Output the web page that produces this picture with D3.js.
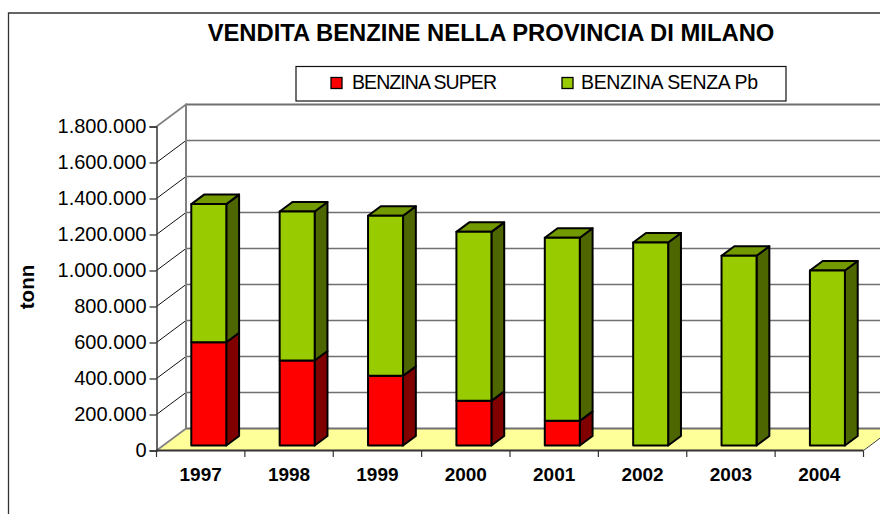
<!DOCTYPE html>
<html><head><meta charset="utf-8">
<style>html,body{margin:0;padding:0;background:#fff}svg{display:block}text{font-family:"Liberation Sans",Arial,sans-serif;fill:#000}</style>
<script src="https://cdnjs.cloudflare.com/ajax/libs/d3/7.8.5/d3.min.js"></script>
</head><body><svg id="c" width="880" height="514"></svg>
<script>
const title = "VENDITA BENZINE NELLA PROVINCIA DI MILANO";
const yAxisTitle = "tonn";
const categories = ["1997","1998","1999","2000","2001","2002","2003","2004"];
const seriesNames = ["BENZINA SUPER","BENZINA SENZA Pb"];
const benzinaSuper = [574000,472000,387000,248000,137000,0,0,0];
const benzinaSenzaPb = [767000,828000,889000,939000,1017000,1128000,1054000,972000];
const yTicks = [0,200000,400000,600000,800000,1000000,1200000,1400000,1600000,1800000];

const svg = d3.select("#c");
const fr = {l:156.5,r:863.5,b:450.5,t:126.5};
const wall = {dx:29.5,dy:-22};
const barDepth = {start:5/22, dx:12.8, dy:-9.5, w:35};
const faces = {
  s0:{front:"#ff0000",side:"#800000",top:"#800000"},
  s1:{front:"#99cc00",side:"#4d6600",top:"#739900"}
};
const y = d3.scaleLinear().domain([0,1800000]).range([fr.b,fr.t]);
const x = d3.scaleBand().domain(categories).range([fr.l,fr.r]);
const fmt = d => d3.format(",")(d).replace(/,/g,".");

// outer frame
svg.append("path").attr("d","M8.5,514V13H880").attr("fill","none").attr("stroke","#333").attr("stroke-width",1.3);

// floor
svg.append("path").attr("fill","#ffff99")
  .attr("d",`M${fr.l},${fr.b}L${fr.l+wall.dx},${fr.b+wall.dy}L${fr.r+wall.dx},${fr.b+wall.dy}L${fr.r},${fr.b}Z`);

// back wall gridlines and side wall diagonals
yTicks.forEach(t=>{
  svg.append("line").attr("x1",fr.l+wall.dx).attr("x2",880)
    .attr("y1",y(t)+wall.dy).attr("y2",y(t)+wall.dy)
    .attr("stroke","#707070").attr("stroke-width",t===0||t===1800000?2:1.6);
  svg.append("line").attr("x1",fr.l).attr("x2",fr.l+wall.dx)
    .attr("y1",y(t)).attr("y2",y(t)+wall.dy)
    .attr("stroke",t===0||t===1800000?"#808080":"#111").attr("stroke-width",t===0||t===1800000?1.6:1);
});
svg.append("line").attr("x1",fr.l+wall.dx).attr("x2",fr.l+wall.dx)
  .attr("y1",y(1800000)+wall.dy-1).attr("y2",y(0)+wall.dy).attr("stroke","#808080").attr("stroke-width",2);
svg.append("line").attr("x1",fr.r).attr("x2",fr.r+wall.dx).attr("y1",fr.b).attr("y2",fr.b+wall.dy).attr("stroke","#444").attr("stroke-width",1);

// axes
const yAxis = d3.axisLeft(y).tickValues(yTicks).tickFormat(fmt).tickSize(7).tickPadding(3);
const gy = svg.append("g").attr("transform",`translate(${fr.l},0)`).call(yAxis);
gy.select(".domain").attr("stroke","#333").attr("stroke-width",1.5);
gy.selectAll(".tick line").attr("stroke","#333").attr("stroke-width",1.3);
gy.selectAll("text").style("font-size","20px").attr("fill","#000").attr("font-family",'"Liberation Sans"');

const xAxis = d3.axisBottom(x).tickSize(0).tickPadding(17);
const gx = svg.append("g").attr("transform",`translate(0,${fr.b})`).call(xAxis);
gx.select(".domain").attr("stroke","#333").attr("stroke-width",2).attr("d",`M${fr.l},0H${fr.r}`);
gx.selectAll("text").style("font-size","19px").style("font-weight","bold").attr("fill","#000").attr("font-family",'"Liberation Sans"');
[...categories,null].forEach((c,i)=>{
  const px = fr.l + i*x.step();
  svg.append("line").attr("x1",px).attr("x2",px).attr("y1",fr.b).attr("y2",fr.b+6.5).attr("stroke","#333").attr("stroke-width",1.2);
});

// stacked bars
const rows = categories.map((c,i)=>({c,s0:benzinaSuper[i],s1:benzinaSenzaPb[i]}));
const stack = d3.stack().keys(["s0","s1"])(rows);
const sx = barDepth.start*wall.dx, sy = barDepth.start*wall.dy;
const gBars = svg.append("g");
stack.forEach(layer=>{
  const col = faces[layer.key];
  layer.forEach(d=>{
    if(d[1]===d[0]) return;
    const c = d.data.c;
    const x0 = x(c)+x.bandwidth()/2-barDepth.w/2+sx+1.4, x1 = x0+barDepth.w;
    const yb = y(d[0])+sy, yt = y(d[1])+sy;
    const g = gBars.append("g").attr("stroke","#000").attr("stroke-width",2).attr("stroke-linejoin","round");
    g.append("path").attr("fill",col.side)
      .attr("d",`M${x1},${yb}L${x1+barDepth.dx},${yb+barDepth.dy}L${x1+barDepth.dx},${yt+barDepth.dy}L${x1},${yt}Z`);
    if(d[1]===d3.sum(Object.values(d.data).slice(1)))
      g.append("path").attr("fill",col.top)
        .attr("d",`M${x0},${yt}L${x0+barDepth.dx},${yt+barDepth.dy}L${x1+barDepth.dx},${yt+barDepth.dy}L${x1},${yt}Z`);
    g.append("rect").attr("x",x0).attr("y",yt).attr("width",barDepth.w).attr("height",yb-yt).attr("fill",col.front);
  });
});

// title
svg.append("text").attr("x",491).attr("y",41).attr("text-anchor","middle")
  .style("font-size","23.8px").style("font-weight","bold").text(title);
// y-axis title
svg.append("text").attr("transform","translate(34,287) rotate(-90)").attr("text-anchor","middle")
  .style("font-size","20.5px").style("font-weight","bold").text(yAxisTitle);

// legend
svg.append("rect").attr("x",296).attr("y",66.5).attr("width",490).attr("height",34.5)
  .attr("fill","#fff").attr("stroke","#111").attr("stroke-width",1.2);
const legendItems = [
  {sw:331,tx:352,len:145,col:faces.s0.front,name:seriesNames[0]},
  {sw:562,tx:581,len:177,col:faces.s1.front,name:seriesNames[1]}
];
legendItems.forEach(o=>{
  svg.append("rect").attr("x",o.sw).attr("y",77.5).attr("width",11).attr("height",11)
    .attr("fill",o.col).attr("stroke","#000").attr("stroke-width",1.3);
  svg.append("text").attr("x",o.tx).attr("y",88.5).attr("textLength",o.len).attr("lengthAdjust","spacing")
    .style("font-size","19.5px").text(o.name);
});
</script></body></html>
